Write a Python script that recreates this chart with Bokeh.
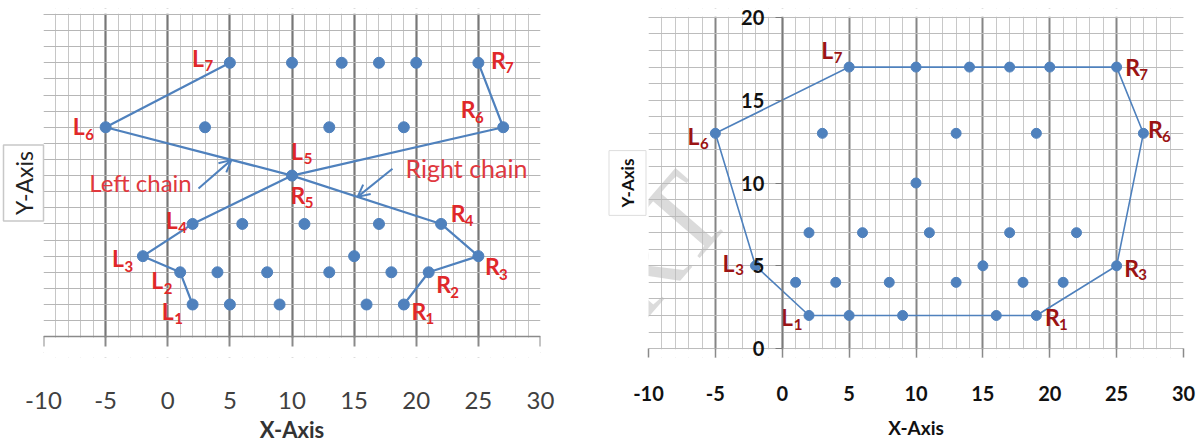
import math
from bokeh.plotting import figure
from bokeh.layouts import row
from bokeh.models import (ColumnDataSource, SingleIntervalTicker, Arrow, OpenHead, Label,
                          Range1d, Title, BoxAnnotation, LinearAxis)
from bokeh.core.properties import value
from bokeh.embed import file_html
from bokeh.resources import INLINE

# ---------------- data ----------------
node_x = [2, 5, 9, 16, 19, 1, 4, 8, 13, 18, 21, -2, 15, 25, 2, 6, 11, 17, 22, 10,
          -5, 3, 13, 19, 27, 5, 10, 14, 17, 20, 25]
node_y = [2, 2, 2, 2, 2, 4, 4, 4, 4, 4, 4, 5, 5, 5, 7, 7, 7, 7, 7, 10,
          13, 13, 13, 13, 13, 17, 17, 17, 17, 17, 17]

chain1_x = [2, 1, -2, 2, 10, 27, 25]
chain1_y = [2, 4, 5, 7, 10, 13, 17]
chain2_x = [5, -5, 10, 22, 25, 21, 19]
chain2_y = [17, 13, 10, 7, 5, 4, 2]

hull_x = [2, 19, 25, 27, 25, 5, -5, -2, 2]
hull_y = [2, 2, 5, 13, 17, 17, 13, 5, 2]

left_lab_letter = ["L", "L", "L", "L", "L", "L", "L", "R", "R", "R", "R", "R", "R", "R"]
left_lab_index = ["1", "2", "3", "4", "5", "6", "7", "1", "2", "3", "4", "5", "6", "7"]
left_lab_x = [2, 1, -2, 2, 10, -5, 5, 19, 21, 25, 22, 10, 27, 25]
left_lab_y = [2, 4, 5, 7, 10, 13, 17, 2, 4, 5, 7, 10, 13, 17]

right_lab_letter = ["L", "L", "L", "L", "R", "R", "R", "R"]
right_lab_index = ["1", "3", "6", "7", "1", "3", "6", "7"]
right_lab_x = [2, -2, -5, 5, 19, 25, 27, 25]
right_lab_y = [2, 5, 13, 17, 2, 5, 13, 17]

x_min, x_max = -10, 30
y_min, y_max = 0, 20
x_tick_interval = 5
y_tick_interval = 5
tick_overrides = {-10: "-10", -5: "-5"}

# ---------------- styling (pixel offsets of labels) ----------------
left_lab_dx = [-25, -23, -25, -21, 5, -27, -32, 15, 15, 14, 17, 6, -35, 20]
left_lab_dy = [6, 8, 2, -4, -25, -1, -5, 6, 12, 10, -11, 19, -18, -3]
right_lab_dx = [-22, -27, -22, -22, 16, 15, 12, 16]
right_lab_dy = [2, -3, 3, -17, 2, 2, -4, 0]

BLUE = "#4F81BD"
RED = "#E0282A"
DARKRED = "#9B1414"
FONT = "Lato"

# page pixels of the x/y limits of each panel
LF = dict(left=43, right=540, top=14, bottom=340)
RF = dict(left=648, right=1183, top=17, bottom=352)
# common frame (both plots in a row share frame top / bottom)
FRAME_TOP, FRAME_BOTTOM = 8, 361
FIG_H = 445


def page_to_data(frame, px, py):
    x = x_min + (px - frame["left"]) * (x_max - x_min) / (frame["right"] - frame["left"])
    y = y_min + (frame["bottom"] - py) * (y_max - y_min) / (frame["bottom"] - frame["top"])
    return x, y


def y_range_for(frame):
    upp = (y_max - y_min) / (frame["bottom"] - frame["top"])
    return Range1d(y_min - (FRAME_BOTTOM - frame["bottom"]) * upp,
                   y_max + (frame["top"] - FRAME_TOP) * upp)


def style_grid(p, major_v, minor_v, hcol, major_w):
    p.xgrid.ticker = SingleIntervalTicker(interval=x_tick_interval, num_minor_ticks=5)
    p.ygrid.ticker = SingleIntervalTicker(interval=y_tick_interval, num_minor_ticks=5)
    p.xgrid.grid_line_color = major_v
    p.xgrid.grid_line_width = major_w
    p.xgrid.minor_grid_line_color = minor_v
    p.xgrid.minor_grid_line_width = 1
    p.ygrid.grid_line_color = hcol
    p.ygrid.grid_line_width = 1
    p.ygrid.minor_grid_line_color = hcol
    p.ygrid.minor_grid_line_width = 1
    eps = 0.04
    p.add_layout(BoxAnnotation(bottom=y_max + eps, fill_color="white", fill_alpha=1,
                               line_alpha=0, level="underlay"))
    p.add_layout(BoxAnnotation(top=y_min - eps, fill_color="white", fill_alpha=1,
                               line_alpha=0, level="underlay"))


# ---------------- left panel ----------------
pl = figure(width=560, height=FIG_H, x_range=Range1d(x_min, x_max), y_range=y_range_for(LF),
            output_backend="svg", toolbar_location=None, y_axis_location=None,
            min_border_left=43, min_border_right=20,
            min_border_top=FRAME_TOP, min_border_bottom=FIG_H - FRAME_BOTTOM)
pl.background_fill_color = "white"
pl.border_fill_color = "white"
pl.outline_line_color = None
style_grid(pl, "#777777", "#c6c6c6", "#b6b6b6", 2.2)

# axis line and ticks at y = 0
x0 = LinearAxis(fixed_location=0, ticker=SingleIntervalTicker(interval=x_tick_interval, num_minor_ticks=0),
                axis_line_color="#8a8a8a", axis_line_width=1.5,
                major_tick_line_color="#8a8a8a", major_tick_line_width=2,
                major_tick_out=10, major_tick_in=0, minor_tick_line_color=None,
                major_label_text_font_size="0px", major_label_text_alpha=0)
pl.add_layout(x0, "below")

xa = pl.xaxis[0]
xa.ticker = SingleIntervalTicker(interval=x_tick_interval, num_minor_ticks=0)
xa.major_label_overrides = tick_overrides
xa.axis_line_color = None
xa.major_tick_line_color = None
xa.major_tick_out = 0
xa.major_tick_in = 0
xa.minor_tick_line_color = None
xa.major_label_standoff = 34
xa.major_label_text_font = FONT
xa.major_label_text_font_size = "24px"
xa.major_label_text_color = "#404040"
xa.axis_label = "X-Axis"
xa.axis_label_text_font = FONT
xa.axis_label_text_font_size = "22px"
xa.axis_label_text_font_style = "bold"
xa.axis_label_text_color = "#333333"
xa.axis_label_standoff = 4

pl.add_layout(Title(text="Y-Axis", align="center", text_font=FONT, text_font_size="23px",
                    text_font_style="normal", text_color="#222222",
                    border_line_color="#c8c8c8", border_line_width=1.5,
                    background_fill_color="white", padding=6, standoff=0), "left")

pl.line(chain1_x, chain1_y, line_color=BLUE, line_width=2.2)
pl.line(chain2_x, chain2_y, line_color=BLUE, line_width=2.2)
pl.scatter(node_x, node_y, size=11, fill_color=BLUE, line_color=BLUE)

lsrc = ColumnDataSource(dict(x=left_lab_x, y=left_lab_y, t=left_lab_letter, s=left_lab_index,
                             dx=left_lab_dx, dy=left_lab_dy,
                             sdx=[d + 11 for d in left_lab_dx], sdy=[d + 8 for d in left_lab_dy]))
pl.text(x="x", y="y", text="t", x_offset="dx", y_offset="dy", source=lsrc,
        text_align="center", text_baseline="middle", text_color=RED,
        text_font=value(FONT), text_font_size="23px", text_font_style="bold")
pl.text(x="x", y="y", text="s", x_offset="sdx", y_offset="sdy", source=lsrc,
        text_align="center", text_baseline="middle", text_color=RED,
        text_font=value(FONT), text_font_size="15px", text_font_style="bold")

# chain annotations
lc_x, lc_y = page_to_data(LF, 140, 184)
rc_x, rc_y = page_to_data(LF, 466, 169)
pl.text(x=[lc_x], y=[lc_y], text=["Left chain"], text_align="center", text_baseline="middle",
        text_color="#E0393E", text_font=value(FONT), text_font_size="24px")
pl.text(x=[rc_x], y=[rc_y], text=["Right chain"], text_align="center", text_baseline="middle",
        text_color="#E0393E", text_font=value(FONT), text_font_size="25px")

# arrow heads end on chain segments
f1 = 0.675
e1x = chain2_x[1] + f1 * (chain2_x[2] - chain2_x[1])
e1y = chain2_y[1] + f1 * (chain2_y[2] - chain2_y[1])
f2 = 0.44
e2x = chain2_x[2] + f2 * (chain2_x[3] - chain2_x[2])
e2y = chain2_y[2] + f2 * (chain2_y[3] - chain2_y[2])
s1x, s1y = page_to_data(LF, 198, 190)
s2x, s2y = page_to_data(LF, 392, 170)
for sx, sy, ex, ey in [(s1x, s1y, e1x, e1y), (s2x, s2y, e2x, e2y)]:
    pl.add_layout(Arrow(end=OpenHead(size=12, line_color=BLUE, line_width=2),
                        x_start=sx, y_start=sy, x_end=ex, y_end=ey,
                        line_color=BLUE, line_width=2))

# ---------------- right panel ----------------
pr = figure(width=640, height=FIG_H, x_range=Range1d(x_min, x_max), y_range=y_range_for(RF),
            output_backend="svg", toolbar_location=None,
            min_border_left=88, min_border_right=17,
            min_border_top=FRAME_TOP, min_border_bottom=FIG_H - FRAME_BOTTOM)
pr.background_fill_color = "white"
pr.border_fill_color = "white"
pr.outline_line_color = None
style_grid(pr, "#858585", "#c8c8c8", "#bcbcbc", 2.0)

ya = pr.yaxis[0]
ya.fixed_location = 0
ya.bounds = (y_min, y_max)
ya.ticker = SingleIntervalTicker(interval=y_tick_interval, num_minor_ticks=0)
ya.axis_line_color = "#7a7a7a"
ya.axis_line_width = 1.5
ya.major_tick_line_color = "#7a7a7a"
ya.major_tick_out = 7
ya.major_tick_in = 0
ya.minor_tick_line_color = None
ya.major_label_standoff = 11
ya.major_label_text_font = FONT
ya.major_label_text_font_size = "20px"
ya.major_label_text_font_style = "bold"
ya.major_label_text_color = "#111111"

xb = pr.xaxis[0]
xb.ticker = SingleIntervalTicker(interval=x_tick_interval, num_minor_ticks=0)
xb.major_label_overrides = tick_overrides
xb.axis_line_color = None
xb.major_tick_line_color = "#8a8a8a"
xb.major_tick_line_width = 1.5
xb.major_tick_out = 0
xb.major_tick_in = FRAME_BOTTOM - RF["bottom"]
xb.minor_tick_line_color = None
xb.major_label_standoff = 28
xb.major_label_text_font = FONT
xb.major_label_text_font_size = "20px"
xb.major_label_text_font_style = "bold"
xb.major_label_text_color = "#111111"
xb.axis_label = "X-Axis"
xb.axis_label_text_font = FONT
xb.axis_label_text_font_size = "19px"
xb.axis_label_text_font_style = "bold"
xb.axis_label_text_color = "#111111"
xb.axis_label_standoff = 12

pr.add_layout(Title(text="Y-Axis", align="center", text_font=FONT, text_font_size="17px",
                    text_font_style="bold", text_color="#111111",
                    border_line_color="#dddddd", border_line_width=1,
                    background_fill_color="white", padding=8, standoff=5), "left")

pr.line(hull_x, hull_y, line_color=BLUE, line_width=1.6)
pr.scatter(node_x, node_y, size=10, fill_color=BLUE, line_color=BLUE)

rsrc = ColumnDataSource(dict(x=right_lab_x, y=right_lab_y, t=right_lab_letter, s=right_lab_index,
                             dx=right_lab_dx, dy=right_lab_dy,
                             sdx=[d + 11 for d in right_lab_dx], sdy=[d + 7 for d in right_lab_dy]))
pr.text(x="x", y="y", text="t", x_offset="dx", y_offset="dy", source=rsrc,
        text_align="center", text_baseline="middle", text_color=DARKRED,
        text_font=value(FONT), text_font_size="23px", text_font_style="bold")
pr.text(x="x", y="y", text="s", x_offset="sdx", y_offset="sdy", source=rsrc,
        text_align="center", text_baseline="middle", text_color=DARKRED,
        text_font=value(FONT), text_font_size="15px", text_font_style="bold")

wx, wy = page_to_data(RF, 606, 308)
pr.add_layout(Label(x=wx, y=wy, text="IJERT", angle=math.radians(49),
                    text_align="center", text_baseline="middle",
                    text_font="Liberation Serif", text_font_size="118px",
                    text_color="#b8b8b8", text_alpha=0.5))

layout = row(pl, pr, spacing=0)
open("out.html", "w").write(file_html(layout, INLINE))
